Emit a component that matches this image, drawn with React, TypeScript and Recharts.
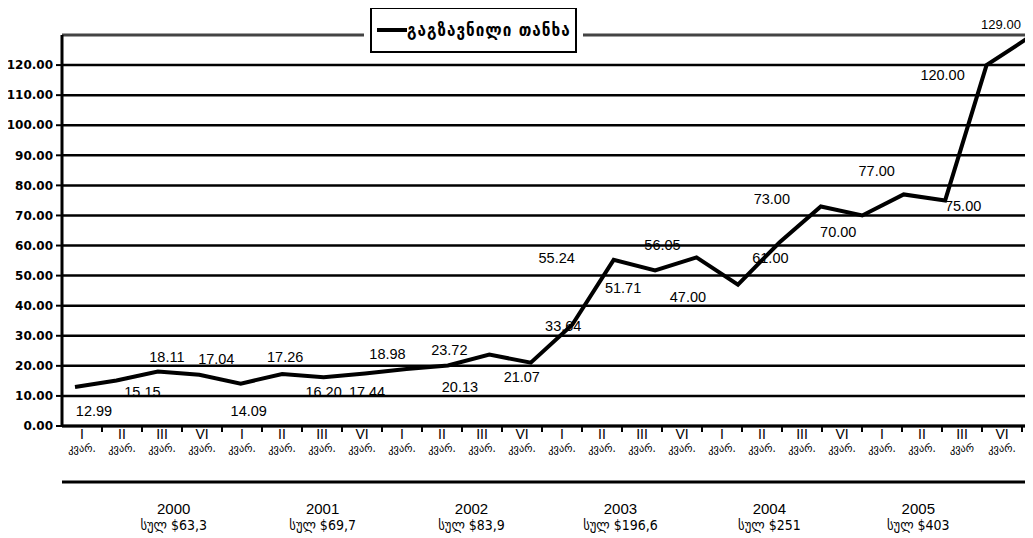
import React from 'react';
import { LineChart, Line, XAxis, YAxis, CartesianGrid, Legend, ReferenceLine } from 'recharts';

// chart values
const years = ['2000', '2001', '2002', '2003', '2004', '2005'];
const yearTotals = ['სულ $63,3', 'სულ $69,7', 'სულ $83,9', 'სულ $196,6', 'სულ $251', 'სულ $403'];
const quarterTicks = [
  ['I', 'კვარ.'], ['II', 'კვარ.'], ['III', 'კვარ.'], ['VI', 'კვარ.'],
  ['I', 'კვარ.'], ['II', 'კვარ.'], ['III', 'კვარ.'], ['VI', 'კვარ.'],
  ['I', 'კვარ.'], ['II', 'კვარ.'], ['III', 'კვარ.'], ['VI', 'კვარ.'],
  ['I', 'კვარ.'], ['II', 'კვარ.'], ['III', 'კვარ.'], ['VI', 'კვარ.'],
  ['I', 'კვარ.'], ['II', 'კვარ.'], ['III', 'კვარ.'], ['VI', 'კვარ.'],
  ['I', 'კვარ.'], ['II', 'კვარ.'], ['III', 'კვარ'], ['VI', 'კვარ.'],
];
const sentAmount = [
  12.99, 15.15, 18.11, 17.04,
  14.09, 17.26, 16.2, 17.44,
  18.98, 20.13, 23.72, 21.07,
  33.64, 55.24, 51.71, 56.05,
  47.0, 61.0, 73.0, 70.0,
  77.0, 75.0, 120.0, 129.0,
];
const yTicks = [0, 10, 20, 30, 40, 50, 60, 70, 80, 90, 100, 110, 120];
const seriesName = 'გაგზავნილი თანხა';

// where each value label sits relative to its point
const labelPlacement = [
  { dx: 19, dy: 24 }, { dx: 26, dy: 12 }, { dx: 9, dy: -15 }, { dx: 17, dy: -16 },
  { dx: 8, dy: 27 }, { dx: 3, dy: -17 }, { dx: 0, dy: 15 }, { dx: 2, dy: 18 },
  { dx: -19, dy: -15 }, { dx: 12, dy: 22 }, { dx: -40, dy: -5 }, { dx: -9, dy: 14 },
  { dx: -9, dy: 1 }, { dx: -57, dy: -2 }, { dx: -32, dy: 18 }, { dx: -34, dy: -12 },
  { dx: -50, dy: 12 }, { dx: -9, dy: 15 }, { dx: -49, dy: -7 }, { dx: -24, dy: 17 },
  { dx: -27, dy: -23 }, { dx: 18, dy: 6 }, { dx: -44, dy: 10 }, { dx: -27, dy: -14 },
];

const data = sentAmount.map((value, i) => ({
  key: `${years[Math.floor(i / 4)]}-${i % 4}`,
  i,
  value,
}));
const yearTicks = years.map((_, k) => k * 4 + 1.5);

const W = 1025;
const H = 530;
const BAND = 40;
const SANS = '"Liberation Sans", Arial, sans-serif';
const GEO = '"DejaVu Sans Condensed", "DejaVu Sans", sans-serif';

const QuarterTick = (props: any) => {
  const { x, y, payload } = props;
  const idx = payload.index;
  const [num, word] = quarterTicks[idx] || ['', ''];
  return (
    <g>
      {idx > 0 && <line x1={x - BAND / 2} x2={x - BAND / 2} y1={y} y2={y + 6} stroke="#000" strokeWidth={2} />}
      {idx === quarterTicks.length - 1 && (
        <line x1={x + BAND / 2} x2={x + BAND / 2} y1={y} y2={y + 6} stroke="#000" strokeWidth={2} />
      )}
      <text x={x} y={y + 13} textAnchor="middle" fontSize={14} fontFamily={SANS} fill="#000">{num}</text>
      <text x={x} y={y + 26} textAnchor="middle" fontSize={11.5} fontFamily={GEO} fill="#000">{word}</text>
    </g>
  );
};

const YearTick = (props: any) => {
  const { x, y, payload } = props;
  const k = Math.round((payload.value - 1.5) / 4);
  return (
    <g>
      <text x={x} y={y + 32} textAnchor="middle" fontSize={15} fontFamily={SANS} fill="#000">{years[k]}</text>
      <text x={x} y={y + 48} textAnchor="middle" fontSize={14} fontFamily={GEO} fill="#000">{yearTotals[k]}</text>
    </g>
  );
};

const renderValueLabel = (props: any) => {
  const { x, y, value, index } = props;
  const p = labelPlacement[index] || { dx: 0, dy: -12 };
  const last = index === sentAmount.length - 1;
  return (
    <text
      key={`lbl-${index}`}
      x={x + p.dx}
      y={y + p.dy}
      textAnchor="middle"
      dominantBaseline="central"
      fontSize={last ? 13 : 14.5}
      fontFamily={SANS}
      fill="#000"
    >
      {Number(value).toFixed(2)}
    </text>
  );
};

const LegendBox = () => (
  <div
    style={{
      width: 198,
      height: 42,
      border: '2px solid #000',
      background: '#fff',
      boxShadow: '0 0 0 6px #fff',
      display: 'flex',
      alignItems: 'center',
      paddingLeft: 5,
      boxSizing: 'content-box',
    }}
  >
    <div style={{ width: 30, height: 4, background: '#000' }} />
    <span
      style={{
        fontFamily: GEO,
        fontWeight: 'bold',
        fontSize: 17,
        letterSpacing: 1,
        color: '#000',
        whiteSpace: 'nowrap',
      }}
    >
      {seriesName}
    </span>
  </div>
);

export default function App() {
  return (
    <div style={{ width: W, height: H }}>
      <LineChart width={W} height={H} data={data} margin={{ top: 27, right: 3, left: 0, bottom: 0 }}>
        <CartesianGrid xAxisId="q" vertical={false} stroke="#000" strokeWidth={2.5} />
        <XAxis xAxisId="pt" dataKey="key" hide height={0} padding={{ left: 13, right: 2 }} />
        <XAxis
          xAxisId="q"
          dataKey="key"
          scale="band"
          interval={0}
          padding={{ left: 0, right: 8 }}
          height={56}
          tickSize={0}
          tickMargin={0}
          tickLine={false}
          axisLine={{ stroke: '#000', strokeWidth: 3 }}
          tick={<QuarterTick />}
        />
        <XAxis
          xAxisId="yr"
          type="number"
          dataKey="i"
          domain={[-1.5, 24.5]}
          allowDataOverflow
          ticks={yearTicks}
          interval={0}
          height={56}
          tickSize={0}
          tickMargin={0}
          tickLine={false}
          axisLine={{ stroke: '#000', strokeWidth: 3 }}
          tick={<YearTick />}
        />
        <YAxis
          domain={[0, 130]}
          ticks={yTicks}
          width={54}
          interval={0}
          tickSize={6}
          tickMargin={3}
          tickFormatter={(v: number) => v.toFixed(2)}
          axisLine={{ stroke: '#000', strokeWidth: 3 }}
          tickLine={{ stroke: '#000', strokeWidth: 2 }}
          tick={{ fill: '#000', fontSize: 12, fontWeight: 'bold', fontFamily: '"DejaVu Sans", sans-serif' }}
        />
        <ReferenceLine xAxisId="pt" y={130} stroke="#444" strokeWidth={2.5} />
        <Legend
          layout="horizontal"
          verticalAlign="middle"
          align="center"
          content={<LegendBox />}
          wrapperStyle={{ top: -1, left: 362, width: 'auto', height: 'auto' }}
        />
        <Line
          xAxisId="pt"
          type="linear"
          dataKey="value"
          name={seriesName}
          stroke="#000"
          strokeWidth={4}
          dot={false}
          isAnimationActive={false}
          label={renderValueLabel}
        />
      </LineChart>
    </div>
  );
}
